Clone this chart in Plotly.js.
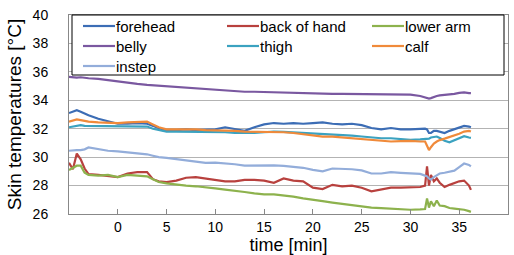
<!DOCTYPE html>
<html>
<head>
<meta charset="utf-8">
<script src="https://cdn.plot.ly/plotly-3.0.1.min.js"></script>
<style>html,body{margin:0;padding:0;background:#fff;}#chart{width:514px;height:255px;}</style>
</head>
<body>
<div id="chart"></div>
<script>
const time = [-5, -4.6, -4.2, -3.8, -3.4, -3, -2, -1, 0, 1, 2, 3, 3.6, 4.2, 5, 6, 7, 8, 9, 10, 11, 12, 13, 14, 15, 16, 17, 18, 19, 20, 21, 22, 23, 24, 25, 26, 27, 28, 29, 30, 31, 31.5, 31.7, 31.9, 32.1, 32.4, 32.7, 33, 33.5, 34, 34.5, 35, 35.5, 36, 36.2];

const forehead = [33.1, 33.2, 33.3, 33.2, 33.05, 32.95, 32.7, 32.5, 32.35, 32.35, 32.4, 32.35, 32.2, 32.0, 31.85, 31.9, 31.95, 31.9, 31.95, 31.95, 32.1, 31.95, 31.85, 32.1, 32.3, 32.4, 32.35, 32.4, 32.35, 32.4, 32.45, 32.35, 32.3, 32.35, 32.25, 32.05, 31.95, 32.05, 31.95, 31.95, 32.0, 32.0, 31.95, 31.7, 31.7, 31.85, 31.85, 31.8, 31.7, 31.85, 31.95, 32.05, 32.2, 32.15, 32.1];

const backOfHand = [29.6, 29.15, 30.25, 29.85, 29.2, 28.8, 28.75, 28.7, 28.6, 28.85, 28.95, 28.95, 28.45, 28.3, 28.25, 28.35, 28.55, 28.6, 28.5, 28.4, 28.3, 28.3, 28.4, 28.4, 28.35, 28.2, 28.5, 28.35, 28.3, 27.85, 27.75, 28.05, 27.95, 28.0, 27.85, 27.6, 27.7, 27.85, 27.85, 27.85, 27.9, 28.0, 29.35, 28.0, 28.75, 28.3, 28.5, 28.2, 27.9, 28.05, 28.2, 28.3, 28.35, 28.0, 27.7];

const lowerArm = [29.1, 29.25, 29.4, 29.4, 28.9, 28.75, 28.7, 28.75, 28.6, 28.75, 28.7, 28.65, 28.45, 28.25, 28.15, 28.05, 28.0, 27.95, 27.9, 27.8, 27.72, 27.65, 27.55, 27.45, 27.38, 27.38, 27.32, 27.22, 27.1, 27.02, 26.9, 26.8, 26.7, 26.62, 26.52, 26.45, 26.42, 26.38, 26.35, 26.3, 26.32, 26.35, 27.1, 26.45, 26.9, 26.55, 26.95, 26.6, 26.55, 26.42, 26.38, 26.35, 26.3, 26.2, 26.15];

const belly = [35.65, 35.62, 35.6, 35.62, 35.58, 35.55, 35.5, 35.4, 35.35, 35.25, 35.15, 35.08, 35.05, 35.0, 34.95, 34.9, 34.85, 34.8, 34.75, 34.72, 34.65, 34.62, 34.6, 34.6, 34.58, 34.55, 34.55, 34.52, 34.5, 34.45, 34.45, 34.45, 34.45, 34.45, 34.43, 34.43, 34.45, 34.45, 34.42, 34.4, 34.3, 34.2, 34.15, 34.12, 34.15, 34.25, 34.3, 34.35, 34.38, 34.4, 34.45, 34.52, 34.55, 34.5, 34.5];

const thigh = [32.1, 32.15, 32.25, 32.25, 32.2, 32.2, 32.2, 32.2, 32.2, 32.2, 32.2, 32.15, 32.0, 31.9, 31.8, 31.8, 31.8, 31.8, 31.8, 31.8, 31.75, 31.7, 31.68, 31.7, 31.75, 31.8, 31.78, 31.75, 31.7, 31.68, 31.65, 31.6, 31.58, 31.52, 31.45, 31.38, 31.33, 31.33, 31.3, 31.22, 31.25, 31.25, 31.25, 31.3, 31.38, 31.42, 31.45, 31.35, 31.15, 31.05, 31.2, 31.38, 31.48, 31.38, 31.35];

const calf = [32.5, 32.6, 32.65, 32.6, 32.55, 32.5, 32.45, 32.4, 32.4, 32.45, 32.45, 32.5, 32.3, 32.1, 31.95, 31.95, 32.0, 31.95, 31.9, 31.9, 31.85, 31.85, 31.8, 31.8, 31.8, 31.8, 31.75, 31.7, 31.6, 31.5, 31.45, 31.45, 31.4, 31.35, 31.28, 31.2, 31.15, 31.1, 31.12, 31.15, 31.1, 31.1, 30.8, 30.5, 30.7, 30.95, 31.1, 31.2, 31.3, 31.4, 31.55, 31.65, 31.8, 31.85, 31.8];

const instep = [30.45, 30.5, 30.5, 30.5, 30.55, 30.68, 30.55, 30.45, 30.4, 30.35, 30.25, 30.2, 30.1, 30.0, 29.95, 29.85, 29.8, 29.65, 29.6, 29.62, 29.58, 29.5, 29.4, 29.42, 29.4, 29.42, 29.38, 29.32, 29.25, 29.1, 29.0, 29.2, 29.2, 29.15, 29.07, 28.85, 28.85, 28.95, 28.9, 28.88, 28.82, 28.7, 28.65, 28.5, 28.42, 28.6, 28.75, 28.85, 28.9, 28.95, 29.05, 29.3, 29.55, 29.45, 29.35];

const seriesNames = ["forehead", "back of hand", "lower arm", "belly", "thigh", "calf", "instep"];
const seriesValues = [forehead, backOfHand, lowerArm, belly, thigh, calf, instep];
const seriesColors = ["#3C6DB5", "#B8413E", "#8DB24D", "#7A58A0", "#3BA2C0", "#F08A3A", "#93ADDA"];

const xTickVals = [0, 5, 10, 15, 20, 25, 30, 35, 40];
const yTickVals = [26, 28, 30, 32, 34, 36, 38, 40];

const traces = seriesNames.map((n, i) => ({
  x: time, y: seriesValues[i], name: n, type: "scatter", mode: "lines",
  line: {color: seriesColors[i], width: 2.2}, showlegend: false
}));

// plot-area geometry (pixels) used to place the legend box in paper coords
const M = {l: 69, r: 6, t: 15, b: 41};
const W = 514, H = 255;
const PW = W - M.l - M.r, PH = H - M.t - M.b;
const px = x => (x - M.l) / PW;
const py = y => (H - M.b - y) / PH;

// legend layout (3 columns, row-major)
const legCols = [83, 227, 372];
const legRows = [26, 46, 66];
const shapes = [{
  type: "rect", xref: "paper", yref: "paper",
  x0: px(72), x1: px(504), y0: py(75), y1: py(15),
  line: {color: "#000", width: 1}, fillcolor: "#fff", layer: "above"
}];
const annotations = [];
seriesNames.forEach((n, i) => {
  const cx = legCols[i % 3], cy = legRows[Math.floor(i / 3)];
  shapes.push({type: "line", xref: "paper", yref: "paper",
    x0: px(cx), x1: px(cx + 32), y0: py(cy), y1: py(cy),
    line: {color: seriesColors[i], width: 2.2}, layer: "above"});
  annotations.push({xref: "paper", yref: "paper", x: px(cx + 32), y: py(cy),
    xanchor: "left", yanchor: "middle", text: n, showarrow: false,
    font: {family: "Liberation Sans, Arial, sans-serif", size: 15, color: "#000"}, borderpad: 0});
});

const fontFam = "Liberation Sans, Arial, sans-serif";
const layout = {
  width: W, height: H,
  margin: M,
  paper_bgcolor: "#fff", plot_bgcolor: "#fff",
  font: {family: fontFam, size: 14, color: "#000"},
  showlegend: false,
  shapes: shapes,
  annotations: annotations,
  xaxis: {
    range: [-5, 40], tickvals: xTickVals, ticktext: xTickVals.map(String),
    ticks: "inside", ticklen: 5, tickcolor: "#888", showgrid: false, zeroline: false,
    showline: true, linecolor: "#888", linewidth: 1, mirror: true,
    tickfont: {family: fontFam, size: 14, color: "#000"}, ticklabelstandoff: 0,
    title: {text: "time [min]", font: {family: fontFam, size: 18, color: "#000"}, standoff: 6}
  },
  yaxis: {
    range: [26, 40], tickvals: yTickVals, ticktext: yTickVals.map(String),
    ticks: "", showgrid: true, gridcolor: "#b3b3b3", gridwidth: 1, zeroline: false,
    showline: true, linecolor: "#888", linewidth: 1, mirror: true,
    tickfont: {family: fontFam, size: 14, color: "#000"}, ticklabelstandoff: 17,
    title: {text: "Skin temperatures [°C]", font: {family: fontFam, size: 19, color: "#000"}, standoff: 5}
  }
};
Plotly.newPlot("chart", traces, layout, {displayModeBar: false, staticPlot: true});
</script>
</body>
</html>
